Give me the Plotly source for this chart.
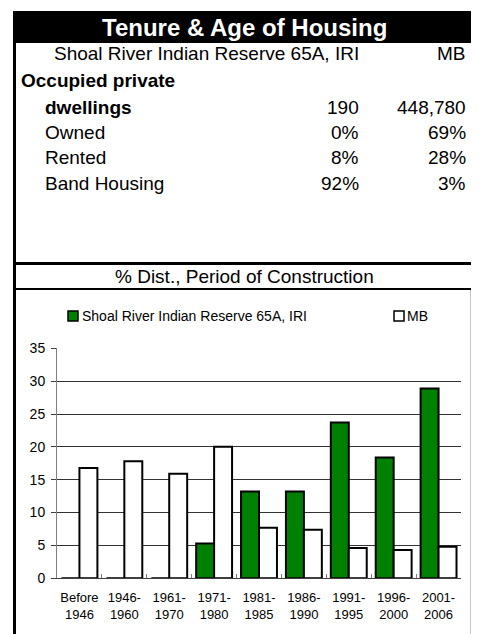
import plotly.graph_objects as go

W, H = 479, 634
OFF = 8  # page body margin, so positions below are given in window pixels

# table content
area_name = "Shoal River Indian Reserve 65A, IRI"
prov_name = "MB"
row_labels = ["dwellings", "Owned", "Rented", "Band Housing"]
area_values = ["190", "0%", "8%", "92%"]
prov_values = ["448,780", "69%", "28%", "3%"]

# chart data (% distribution by period of construction)
periods = ["Before<br>1946", "1946-<br>1960", "1961-<br>1970", "1971-<br>1980",
           "1981-<br>1985", "1986-<br>1990", "1991-<br>1995", "1996-<br>2000",
           "2001-<br>2006"]
shoal_pct = [0, 0, 0, 5.3, 13.2, 13.2, 23.7, 18.4, 28.9]
mb_pct = [16.8, 17.8, 15.9, 20.0, 7.7, 7.4, 4.6, 4.3, 4.8]

GREEN = "#008000"
FONT = "Arial, Liberation Sans, sans-serif"


def px(x):
    return (x - OFF) / W


def py(y):
    return 1 - (y - OFF) / H


fig = go.Figure()
fig.add_trace(go.Bar(x=periods, y=shoal_pct, name=area_name,
                     marker=dict(color=GREEN, line=dict(color="black", width=2))))
fig.add_trace(go.Bar(x=periods, y=mb_pct, name=prov_name,
                     marker=dict(color="white", line=dict(color="black", width=2))))

shapes = []


def rect(x0, y0, x1, y1, fill="black", line_w=0, line_c="black"):
    shapes.append(dict(type="rect", xref="paper", yref="paper",
                       x0=px(x0), x1=px(x1), y0=py(y1), y1=py(y0),
                       fillcolor=fill, line=dict(width=line_w, color=line_c),
                       layer="above"))


# frame pieces
rect(13, 11, 475, 43)          # title bar
rect(13, 11, 16, H + OFF)      # left border
rect(472, 11, 475, H + OFF)    # right border
rect(13, 262, 475, 265)        # separator above sub-title
rect(13, 288, 475, 290)        # separator below sub-title
rect(470.5, 290, 471.3, H + OFF, fill="#909090")  # chart box edge

# legend swatches
rect(68, 311, 78, 321, fill=GREEN, line_w=1.5)
rect(394, 311, 404, 321, fill="white", line_w=1.5)

ann = []


def text(x, y, s, anchor="left", size=19, bold=False, color="black"):
    ann.append(dict(xref="paper", yref="paper", x=px(x), y=py(y),
                    text=f"<b>{s}</b>" if bold else s, showarrow=False,
                    xanchor=anchor, yanchor="middle",
                    font=dict(family=FONT, size=size, color=color)))


text(244, 27, "Tenure & Age of Housing", "center", 24, True, "white")
text(361, 54, area_name, "right")
text(468, 54, prov_name, "right")
text(19, 81, "Occupied private", bold=True)
row_y = [107, 132, 157, 183]
for i, (lab, a, p) in enumerate(zip(row_labels, area_values, prov_values)):
    text(43, row_y[i], lab, bold=(i == 0))
    text(361, row_y[i], a, "right")
    text(468, row_y[i], p, "right")
text(244, 276, "% Dist., Period of Construction", "center")

# legend labels
text(80, 316, area_name, size=14)
text(405, 316, prov_name, size=14)

fig.update_layout(
    width=W, height=H,
    margin=dict(l=0, r=0, t=0, b=0),
    paper_bgcolor="white", plot_bgcolor="white",
    barmode="group", bargap=0.2, bargroupgap=0,
    showlegend=False,
    font=dict(family=FONT, color="black"),
    shapes=shapes, annotations=ann,
    xaxis=dict(domain=[px(57), px(461)], tickfont=dict(size=13),
               tickangle=0, automargin=False, ticklabelstandoff=7,
               showline=True, linecolor="#404040", linewidth=1,
               ticks="inside", tickson="boundaries", ticklen=4,
               tickcolor="#808080", showgrid=False),
    yaxis=dict(domain=[py(578.3), py(348.3)], range=[0, 35], dtick=5,
               automargin=False, ticklabelstandoff=3,
               tickfont=dict(size=14), showline=True, linecolor="#808080",
               linewidth=1, ticks="outside", ticklen=5, tickcolor="#404040",
               showgrid=True, gridcolor="#333333", gridwidth=1,
               zeroline=False),
)

fig.write_html("out.html")
